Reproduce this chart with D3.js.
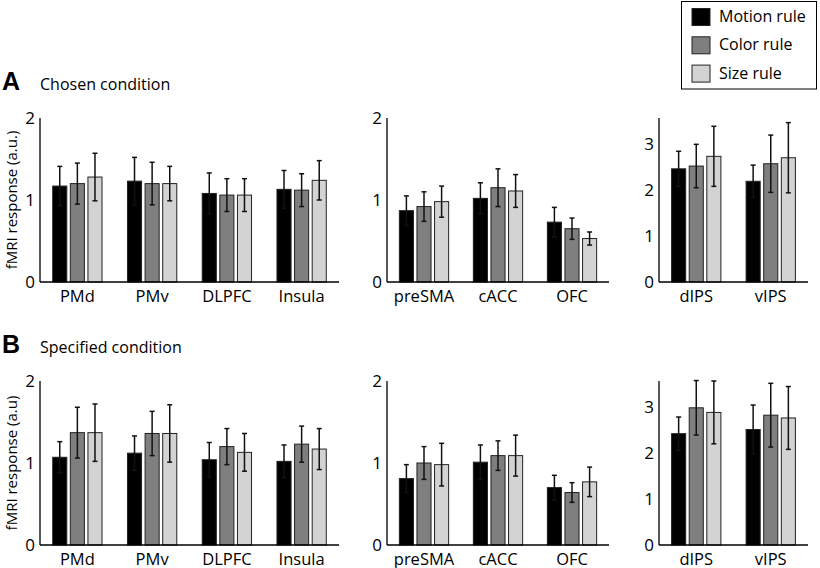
<!DOCTYPE html>
<meta charset="utf-8">
<script src="https://d3js.org/d3.v7.min.js"></script>
<style>
  body { margin: 0; background: #fff; font-family: 'Open Sans', sans-serif; }
</style>
<div id="my_dataviz"></div>
<script>
// regions and rules
var regions = ["PMd", "PMv", "DLPFC", "Insula", "preSMA", "cACC", "OFC", "dIPS", "vIPS"];
var rules = ["Motion rule", "Color rule", "Size rule"];

// chosen condition (means and error bars)
var chosenMotion = [1.17, 1.23, 1.08, 1.13, 0.87, 1.02, 0.73, 2.45, 2.18];
var chosenColor  = [1.20, 1.20, 1.06, 1.12, 0.92, 1.15, 0.65, 2.51, 2.56];
var chosenSize   = [1.28, 1.20, 1.06, 1.24, 0.98, 1.11, 0.53, 2.72, 2.69];
var chosenMotionErr = [0.24, 0.29, 0.25, 0.23, 0.18, 0.19, 0.18, 0.38, 0.35];
var chosenColorErr  = [0.25, 0.26, 0.20, 0.20, 0.18, 0.23, 0.13, 0.47, 0.62];
var chosenSizeErr   = [0.29, 0.21, 0.20, 0.24, 0.19, 0.20, 0.08, 0.65, 0.76];

// specified condition
var specMotion = [1.07, 1.12, 1.04, 1.02, 0.81, 1.01, 0.70, 2.41, 2.50];
var specColor  = [1.37, 1.36, 1.20, 1.23, 1.00, 1.09, 0.64, 2.97, 2.81];
var specSize   = [1.37, 1.36, 1.13, 1.17, 0.98, 1.09, 0.77, 2.87, 2.75];
var specMotionErr = [0.19, 0.21, 0.21, 0.20, 0.17, 0.21, 0.15, 0.36, 0.53];
var specColorErr  = [0.31, 0.27, 0.22, 0.22, 0.20, 0.18, 0.12, 0.59, 0.69];
var specSizeErr   = [0.35, 0.35, 0.23, 0.25, 0.26, 0.25, 0.18, 0.68, 0.68];

// sub-panels: which regions, y max and tick labels
var panelSlices = [[0, 4], [4, 7], [7, 9]];
var panelYMax = [2, 2, 3.55];
var panelTicks = [[0, 1, 2], [0, 1, 2], [0, 1, 2, 3]];

var width = 820, height = 568;
var svg = d3.select("#my_dataviz")
  .append("svg")
    .attr("width", width)
    .attr("height", height);

var color = d3.scaleOrdinal()
  .domain(rules)
  .range(["#000000", "#7f7f7f", "#d3d3d3"]);

// x extents of each sub-panel
var panelX = [[40, 339], [387, 609], [659, 808]];

var conditions = [
  { letter: "A", title: "Chosen condition", ylabel: "fMRI response (a.u.)", top: 118, bottom: 282, titleY: 90,
    vals: [chosenMotion, chosenColor, chosenSize], errs: [chosenMotionErr, chosenColorErr, chosenSizeErr] },
  { letter: "B", title: "Specified condition", ylabel: "fMRI response (a.u)", top: 381, bottom: 545, titleY: 353,
    vals: [specMotion, specColor, specSize], errs: [specMotionErr, specColorErr, specSizeErr] }
];

conditions.forEach(function(cond) {
  // panel letter and title
  svg.append("text")
    .attr("x", 2).attr("y", cond.titleY)
    .style("font-family", "Arial, 'Liberation Sans', sans-serif")
    .style("font-weight", "bold").style("font-size", "25px")
    .text(cond.letter);
  svg.append("text")
    .attr("x", 40).attr("y", cond.titleY)
    .style("font-size", "16px")
    .text(cond.title);

  // y label
  svg.append("text")
    .attr("transform", "translate(16.5," + ((cond.top + cond.bottom) / 2) + ") rotate(-90)")
    .attr("text-anchor", "middle")
    .style("font-size", "15px")
    .text(cond.ylabel);

  panelSlices.forEach(function(sl, p) {
    var regs = regions.slice(sl[0], sl[1]);
    var data = regs.map(function(r, i) {
      var k = sl[0] + i;
      return { region: r, bars: rules.map(function(rule, j) {
        return { rule: rule, value: cond.vals[j][k], err: cond.errs[j][k] };
      }) };
    });

    var x = d3.scaleBand().domain(regs).range(panelX[p]);
    var xSub = d3.scaleBand().domain(rules).range([-24.65, 24.65]).paddingInner(0.2);
    var y = d3.scaleLinear().domain([0, panelYMax[p]]).range([cond.bottom, cond.top]);

    var g = svg.append("g");

    var groups = g.selectAll(".grp")
      .data(data)
      .enter()
      .append("g")
        .attr("transform", function(d) { return "translate(" + (x(d.region) + x.bandwidth() / 2) + ",0)"; });

    groups.selectAll("rect")
      .data(function(d) { return d.bars; })
      .enter()
      .append("rect")
        .attr("x", function(d) { return xSub(d.rule); })
        .attr("width", xSub.bandwidth())
        .attr("y", function(d) { return y(d.value); })
        .attr("height", function(d) { return y(0) - y(d.value); })
        .style("fill", function(d) { return color(d.rule); })
        .style("stroke", "#222")
        .style("stroke-width", 1);

    // error bars
    var eb = groups.selectAll(".eb")
      .data(function(d) { return d.bars; })
      .enter()
      .append("g");
    eb.append("line")
      .attr("x1", function(d) { return xSub(d.rule) + xSub.bandwidth() / 2; })
      .attr("x2", function(d) { return xSub(d.rule) + xSub.bandwidth() / 2; })
      .attr("y1", function(d) { return y(d.value - d.err); })
      .attr("y2", function(d) { return y(d.value + d.err); })
      .style("stroke", "#111").style("stroke-width", 1.5);
    [1, -1].forEach(function(s) {
      eb.append("line")
        .attr("x1", function(d) { return xSub(d.rule) + xSub.bandwidth() / 2 - 2.5; })
        .attr("x2", function(d) { return xSub(d.rule) + xSub.bandwidth() / 2 + 2.5; })
        .attr("y1", function(d) { return y(d.value + s * d.err); })
        .attr("y2", function(d) { return y(d.value + s * d.err); })
        .style("stroke", "#111").style("stroke-width", 1.5);
    });

    // axes: plain lines, labels without tick marks
    g.append("line")
      .attr("x1", panelX[p][0]).attr("x2", panelX[p][0])
      .attr("y1", y(panelYMax[p])).attr("y2", y(0))
      .style("stroke", "#000").style("stroke-width", 1.3);
    g.append("line")
      .attr("x1", panelX[p][0]).attr("x2", panelX[p][1])
      .attr("y1", y(0)).attr("y2", y(0))
      .style("stroke", "#000").style("stroke-width", 1.3);

    g.selectAll(".ytick")
      .data(panelTicks[p])
      .enter()
      .append("text")
        .attr("x", panelX[p][0] - 5)
        .attr("y", function(d) { return y(d); })
        .attr("dy", "0.36em")
        .attr("text-anchor", "end")
        .style("font-size", "17px")
        .text(function(d) { return d; });

    g.selectAll(".xlab")
      .data(regs)
      .enter()
      .append("text")
        .attr("x", function(d) { return x(d) + x.bandwidth() / 2; })
        .attr("y", y(0) + 19.5)
        .attr("text-anchor", "middle")
        .style("font-size", "16.5px")
        .text(function(d) { return d; });
  });
});

// legend
svg.append("rect")
  .attr("x", 681.5).attr("y", 1.5)
  .attr("width", 135).attr("height", 87.5)
  .style("fill", "none").style("stroke", "#000").style("stroke-width", 1);
var leg = svg.selectAll(".leg")
  .data(rules)
  .enter()
  .append("g")
    .attr("transform", function(d, i) { return "translate(0," + (i * 28.3) + ")"; });
leg.append("rect")
  .attr("x", 692).attr("y", 8.5)
  .attr("width", 18).attr("height", 17)
  .style("fill", function(d) { return color(d); })
  .style("stroke", "#222").style("stroke-width", 1);
leg.append("text")
  .attr("x", 719).attr("y", 22)
  .style("font-size", "16px")
  .text(function(d) { return d; });
</script>
